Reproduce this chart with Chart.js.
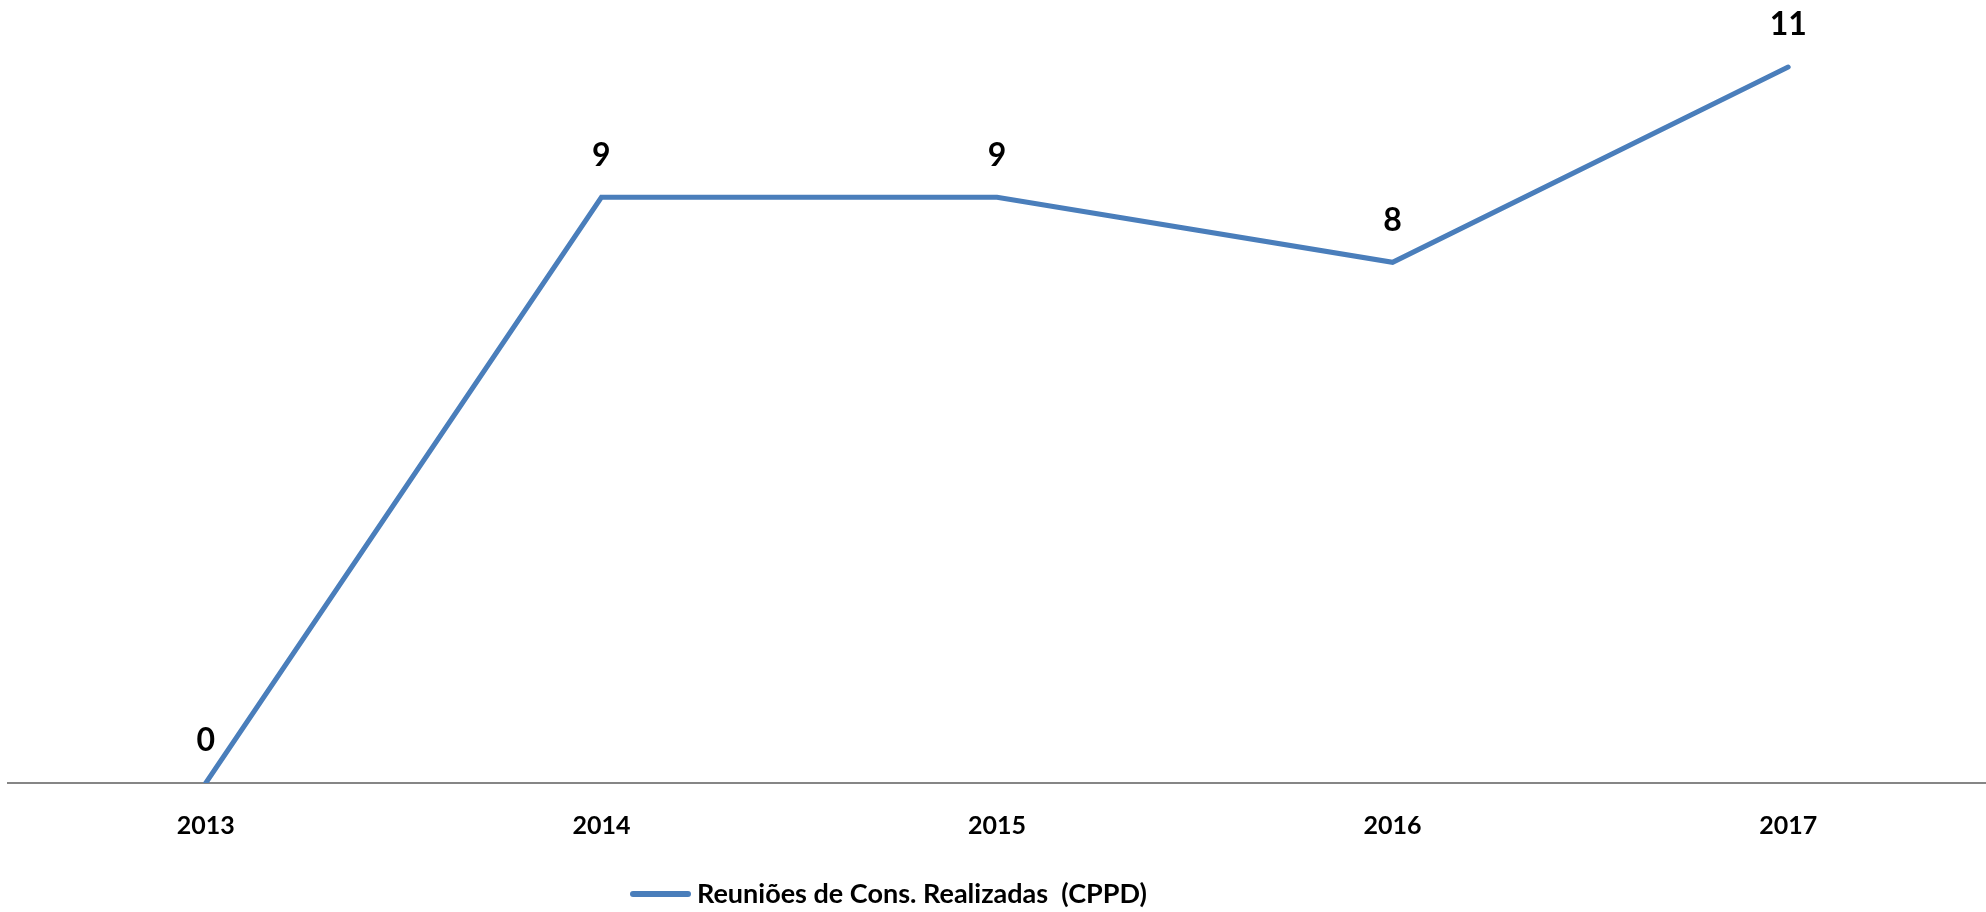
<!DOCTYPE html>
<html>
<head>
<meta charset="utf-8">
<script src="https://cdn.jsdelivr.net/npm/chart.js@4/dist/chart.umd.min.js"></script>
<style>
  html, body { margin: 0; padding: 0; background: #fff; }
  #wrap { width: 1986px; height: 912px; }
</style>
</head>
<body>
<div id="wrap"><canvas id="chLine"></canvas></div>
<script>
// data
var years = ['2013', '2014', '2015', '2016', '2017'];
var reunioes = [0, 9, 9, 8, 11];
var seriesName = 'Reuniões de Cons. Realizadas  (CPPD)';

var blue = '#4A7EBB';
var fontFam = "Lato, 'Open Sans', sans-serif";

// value labels above each point + legend drawn left of centre (like the original)
var extras = {
  id: 'extras',
  afterDatasetsDraw: function(chart) {
    var ctx = chart.ctx;
    var meta = chart.getDatasetMeta(0);
    ctx.save();
    ctx.font = 'bold 32px ' + fontFam;
    ctx.fillStyle = '#000';
    ctx.textAlign = 'center';
    ctx.textBaseline = 'middle';
    meta.data.forEach(function(pt, i) {
      ctx.fillText(String(reunioes[i]), pt.x, pt.y - 42);
    });

    // legend
    var ds = chart.data.datasets[0];
    var ly = 894;
    ctx.strokeStyle = ds.borderColor;
    ctx.lineWidth = 6;
    ctx.lineCap = 'round';
    ctx.beginPath();
    ctx.moveTo(633, ly);
    ctx.lineTo(688, ly);
    ctx.stroke();
    ctx.font = 'bold 27px ' + fontFam;
    ctx.textAlign = 'left';
    ctx.fillText(ds.label, 697, ly);
    ctx.restore();
  }
};

new Chart(document.getElementById('chLine'), {
  type: 'line',
  data: {
    labels: years,
    datasets: [{
      label: seriesName,
      data: reunioes,
      borderColor: blue,
      backgroundColor: blue,
      borderWidth: 5,
      pointRadius: 0,
      tension: 0,
      borderCapStyle: 'round'
    }]
  },
  options: {
    responsive: true,
    maintainAspectRatio: false,
    animation: false,
    layout: { padding: { left: 8, right: 0, top: 2, bottom: 43 } },
    plugins: {
      tooltip: { enabled: false },
      legend: { display: false }
    },
    scales: {
      x: {
        offset: true,
        grid: { display: false, drawTicks: false },
        border: { display: true, color: '#868686', width: 2 },
        ticks: {
          padding: 28,
          color: '#000',
          font: { family: fontFam, size: 25, weight: 'bold' }
        }
      },
      y: {
        display: false,
        min: 0,
        max: 12
      }
    }
  },
  plugins: [extras]
});
</script>
</body>
</html>
